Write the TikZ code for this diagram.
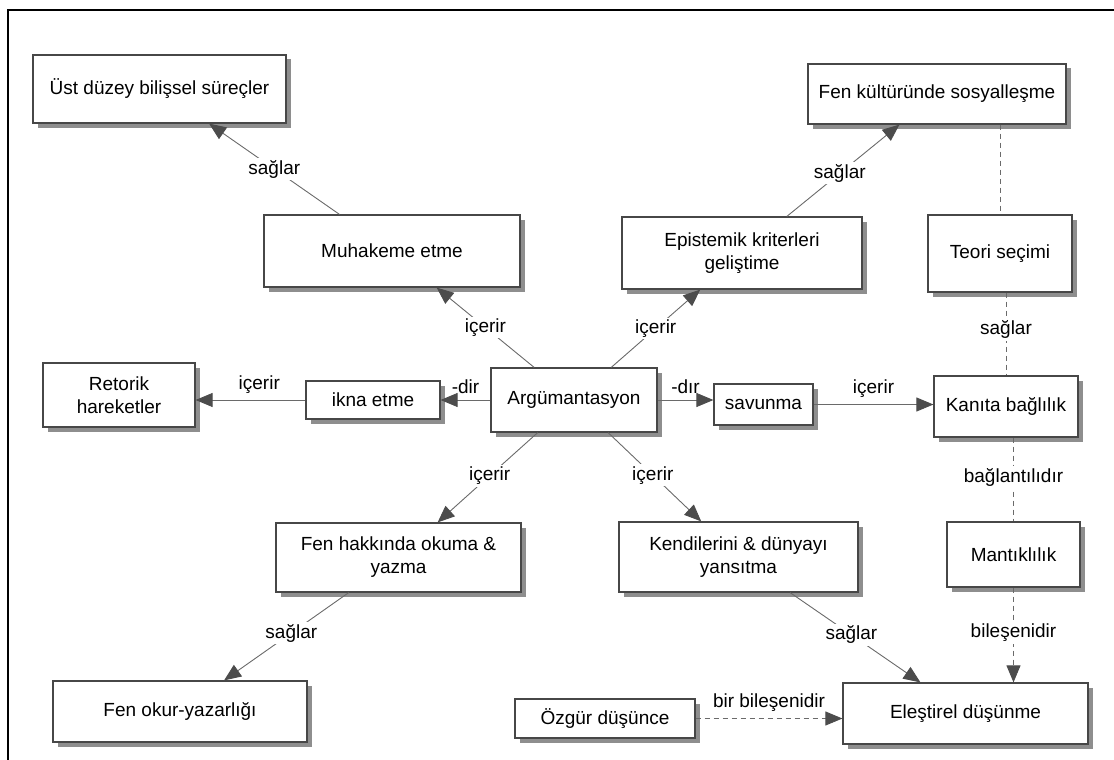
\documentclass[tikz,border=0pt]{standalone}
\usepackage{fontspec}
\setmainfont{Liberation Sans}
\usetikzlibrary{arrows.meta,shadows}

\definecolor{boxline}{HTML}{474747}
\definecolor{linkgray}{HTML}{6A6A6A}
\definecolor{headgray}{HTML}{4C4C4C}
\definecolor{shadowgray}{HTML}{8E8E8E}
\newcommand\mapfont{\fontsize{19}{23}\selectfont}

\tikzset{
  concept/.style={draw=boxline, line width=1.2pt, fill=white, align=center, inner sep=2pt,
    drop shadow={shadow xshift=4.5pt, shadow yshift=-4.5pt, fill=shadowgray, opacity=1}},
  tip/.style={-{Triangle[length=17pt,width=14pt,color=headgray]}},
  link/.style={draw=linkgray, line width=0.9pt, tip},
  dashlink/.style={draw=linkgray, line width=0.9pt, dash pattern=on 5pt off 4pt},
  linklabel/.style={fill=white, inner sep=2pt},
}

\begin{document}
\begin{tikzpicture}[x=1pt, y=-1pt, every node/.style={font=\mapfont}]
\useasboundingbox (0,0) rectangle (1114,760);
\draw[line width=2pt] (8,760) -- (8,10) -- (1114,10);

% concepts
\node[concept, minimum width=253pt, minimum height=68pt] (ust) at (159.5,89) {Üst düzey bilişsel süreçler};
\node[concept, minimum width=256pt, minimum height=72pt] (muh) at (392,251) {Muhakeme etme};
\node[concept, minimum width=258pt, minimum height=60pt] (fk) at (937,94) {Fen kültüründe sosyalleşme};
\node[concept, minimum width=240pt, minimum height=72pt] (epi) at (742,253) {Epistemik kriterleri\\geliştime};
\node[concept, minimum width=144pt, minimum height=77pt] (teori) at (1000,253.5) {Teori seçimi};

\node[concept, minimum width=152pt, minimum height=64pt] (ret) at (119,395) {Retorik\\hareketler};
\node[concept, minimum width=134pt, minimum height=38pt] (ikna) at (373,400) {ikna etme};
\node[concept, minimum width=166pt, minimum height=64pt] (arg) at (574,400) {Argümantasyon};
\node[concept, minimum width=99pt, minimum height=41pt] (sav) at (763.5,404.5) {savunma};
\node[concept, minimum width=144pt, minimum height=61pt] (kan) at (1006,406.5) {Kanıta bağlılık};

\node[concept, minimum width=245pt, minimum height=69pt] (fh) at (398.5,557.5) {Fen hakkında okuma \&\\yazma};
\node[concept, minimum width=239pt, minimum height=70pt] (ken) at (738.5,557) {Kendilerini \& dünyayı\\yansıtma};
\node[concept, minimum width=133pt, minimum height=65pt] (man) at (1013.5,554.5) {Mantıklılık};

\node[concept, minimum width=254pt, minimum height=61pt] (fo) at (180,711.5) {Fen okur-yazarlığı};
\node[concept, minimum width=180pt, minimum height=39pt] (oz) at (605,718.5) {Özgür düşünce};
\node[concept, minimum width=245pt, minimum height=61pt] (ele) at (965.5,713.5) {Eleştirel düşünme};

% links
\draw[link] (muh) -- node[linklabel]{sağlar} (ust);
\draw[link] (arg) -- node[linklabel]{içerir} (muh);
\draw[link] (arg) -- node[linklabel]{içerir} (epi);
\draw[link] (epi) -- node[linklabel, pos=0.47]{sağlar} (fk);
\draw[link] (arg.west) -- node[above=3pt]{-dir} (ikna.east);
\draw[link] (ikna.west) -- node[above=3pt, pos=0.42]{içerir} (ikna.west -| ret.east);
\draw[link] (arg.east) -- node[above=3pt]{-dır} (arg.east -| sav.west);
\draw[link] (sav.east) -- node[above=3pt]{içerir} (sav.east -| kan.west);
\draw[link] (arg) -- node[linklabel, pos=0.48]{içerir} (fh);
\draw[link] (arg) -- node[linklabel, pos=0.48]{içerir} (ken);
\draw[link] (fh) -- node[linklabel, pos=0.46]{sağlar} (fo);
\draw[link] (ken) -- node[linklabel, pos=0.47]{sağlar} (ele);

\draw[dashlink] (fk.south -| teori.north) -- (teori.north);
\draw[dashlink] (teori.south -| kan.north) -- node[linklabel, pos=0.45]{sağlar} (kan.north);
\draw[dashlink] (kan.south -| man.north) -- node[linklabel, pos=0.47]{bağlantılıdır} (man.north);
\draw[dashlink, tip] (man.south) -- node[linklabel, pos=0.48]{bileşenidir} (man.south |- ele.north);
\draw[dashlink, tip] (oz.east) -- node[above=3pt]{bir bileşenidir} (oz.east -| ele.west);

\end{tikzpicture}
\end{document}
